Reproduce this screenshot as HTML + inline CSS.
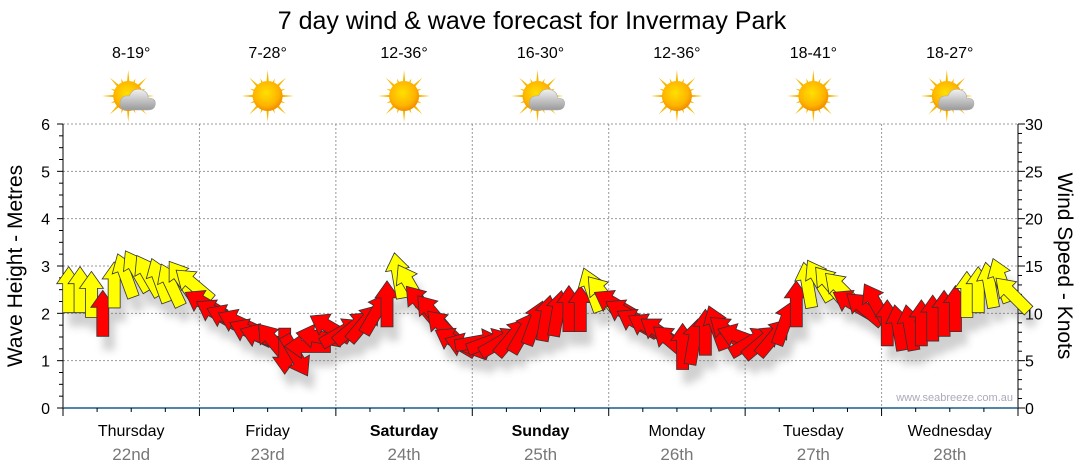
<!DOCTYPE html>
<html><head><meta charset="utf-8"><style>
html,body{margin:0;padding:0;background:#fff;}
svg{display:block;font-family:"Liberation Sans","DejaVu Sans",sans-serif;}
</style></head><body>
<svg id="chart" width="1080" height="475" viewBox="0 0 1080 475" xmlns="http://www.w3.org/2000/svg">
<defs>
<filter id="sh" x="-50%" y="-50%" width="200%" height="200%"><feGaussianBlur stdDeviation="4"/></filter>
<radialGradient id="sunG" cx="45%" cy="40%" r="60%"><stop offset="0" stop-color="#ffe000"/><stop offset="0.7" stop-color="#ffb400"/><stop offset="1" stop-color="#f08c00"/></radialGradient>
<linearGradient id="cloudG" x1="0" y1="0" x2="0" y2="1"><stop offset="0" stop-color="#f2f2f2"/><stop offset="1" stop-color="#9a9a9a"/></linearGradient>
</defs>
<text x="532" y="29" font-size="25" text-anchor="middle" fill="#000">7 day wind &amp; wave forecast for Invermay Park</text>
<g id="grid"></g>
<g id="axes"></g>
<g id="wx"></g>
<g id="shadows" filter="url(#sh)" opacity="0.3"></g>
<g id="arrows"></g>
<text transform="translate(22,266) rotate(-90)" font-size="21" text-anchor="middle" fill="#000">Wave Height - Metres</text>
<text transform="translate(1058,266) rotate(90)" font-size="21" text-anchor="middle" fill="#000">Wind Speed - Knots</text>
<text x="1013" y="401" font-size="11" text-anchor="end" fill="#aab">www.seabreeze.com.au</text>
</svg>
<script>
const days = ["Thursday","Friday","Saturday","Sunday","Monday","Tuesday","Wednesday"];
const dates = ["22nd","23rd","24th","25th","26th","27th","28th"];
const temps = ["8-19°","7-28°","12-36°","16-30°","12-36°","18-41°","18-27°"];
const icons = ["cloudy","sun","sun","cloudy","sun","sun","cloudy"];
const boldDays = [false,false,true,true,false,false,false];
const waveTicks = [0,1,2,3,4,5,6];
const windTicks = [0,5,10,15,20,25,30];
const windSpeed = [
12.5,12.5,12,10,13,14,14.5,14,13.5,13,13.5,13,
11,10,9.5,9,8,7.5,7,6,5.5,6.5,7.5,8.5,
8,8.5,9,10,11,14,13,11,10,8.5,7,6.5,
7,7,7,7.5,8,9,9.5,10,10.5,10.5,12.5,12,
11,10,9,8.5,8,7,6.5,7,8,8.5,8,7.5,
7,7,7.5,9,11,13,13.5,13,12.5,11,10.5,11,
9,8.5,8.5,9,9.5,10,10.5,12,12.5,13,13.5,12];
const windDir = [
0,0,0,0,0,-20,-30,-30,-20,-25,-35,-50,
-60,-60,-65,-65,-65,-70,-40,180,150,-90,-80,-60,
60,50,40,30,0,-10,-30,-40,-40,-45,-60,-70,
80,70,60,40,30,20,10,10,0,0,-20,-40,
-60,-60,-60,-60,-55,-50,0,10,0,-20,-50,-70,
60,50,40,20,0,-10,-30,-40,-45,-60,-50,-30,
0,-10,-10,0,0,0,0,0,0,-10,-20,-45];

const NS="http://www.w3.org/2000/svg";
const X0=63,X1=1018,Y0=408,Y1=124;
const dayW=(X1-X0)/7;
const xHour=h=>X0+h/168*(X1-X0);
const yWave=m=>Y0-m/6*(Y0-Y1);
const yWind=k=>Y0-k/30*(Y0-Y1);
function mk(tag,attrs,parent){const e=document.createElementNS(NS,tag);for(const k in attrs)e.setAttribute(k,attrs[k]);parent.appendChild(e);return e;}
const grid=document.getElementById('grid'),axes=document.getElementById('axes'),wx=document.getElementById('wx');

waveTicks.forEach(m=>{
  if(m>0){const l=mk('line',{x1:X0,x2:X1,y1:yWave(m),y2:yWave(m),stroke:'#999','stroke-dasharray':'2,2','stroke-width':1},grid);
  
  }
  const t=mk('text',{x:50,y:yWave(m)+6,'font-size':16,'text-anchor':'end',fill:'#000'},axes);t.textContent=m;
  
  
});
for(let i=0;i<=24;i++){const y=Y0-i*(Y0-Y1)/24;mk('line',{x1:X0-(i%4==0?6:4),x2:X0,y1:y,y2:y,stroke:'#000'},axes);}
windTicks.forEach(k=>{
  const t=mk('text',{x:1025,y:yWind(k)+6,'font-size':16,fill:'#000'},axes);t.textContent=k;
  
  
});
for(let i=0;i<=30;i++){const y=yWind(i);mk('line',{x1:X1,x2:X1+(i%5==0?7:4),y1:y,y2:y,stroke:'#000'},axes);}
mk('line',{x1:X0,x2:X0,y1:Y1,y2:Y0,stroke:'#000'},axes);
mk('line',{x1:X1,x2:X1,y1:Y1,y2:Y0,stroke:'#000'},axes);
mk('line',{x1:X0,x2:X1,y1:Y0,y2:Y0,stroke:'#1b5b8c','stroke-width':1.5},axes);
for(let i=0;i<=28;i++){const x=X0+i*dayW/4;mk('line',{x1:x,x2:x,y1:Y0,y2:Y0+(i%4==0?8:4),stroke:'#000'},axes);}

days.forEach((d,i)=>{
  const cx=X0+(i+0.5)*dayW;
  if(i>0){const l=mk('line',{x1:X0+i*dayW,x2:X0+i*dayW,y1:Y1,y2:Y0,stroke:'#999','stroke-dasharray':'2,2'},grid);
  
  }
  const t=mk('text',{x:cx,y:436,'font-size':16,'text-anchor':'middle',fill:'#000','font-weight':boldDays[i]?'bold':'normal'},axes);t.textContent=d;
  
  
  const t2=mk('text',{x:cx,y:460,'font-size':17,'text-anchor':'middle',fill:'#777'},axes);t2.textContent=dates[i];
  
  
  const t3=mk('text',{x:cx,y:58,'font-size':16,'text-anchor':'middle',fill:'#000'},wx);t3.textContent=temps[i];
  
  
  const g=mk('g',{transform:`translate(${cx},96)`},wx);
  
  
  const sx=icons[i]=='cloudy'?-3:0;
  for(let r=0;r<16;r++){const a=r*Math.PI/8,L=(r%2?19:26);
    mk('polygon',{points:`${sx+Math.cos(a-0.12)*12},${Math.sin(a-0.12)*12} ${sx+Math.cos(a)*L},${Math.sin(a)*L} ${sx+Math.cos(a+0.12)*12},${Math.sin(a+0.12)*12}`,fill:'#f5b800'},g);}
  mk('circle',{cx:sx,cy:0,r:15,fill:'url(#sunG)'},g);
  if(icons[i]=='cloudy'){
    mk('path',{d:'M-5,14 Q-12,14 -11,6 Q-10,-1 -2,0 Q2,-9 11,-6 Q17,-4 17,2 Q25,2 24,9 Q23,14 17,14 Z',fill:'url(#cloudG)',stroke:'#aaa','stroke-width':0.6},g);
  }
});

const arrows=document.getElementById('arrows'),shadows=document.getElementById('shadows');
const shape='M0,-23 L12,-6 L6,-6 L6,23 L-6,23 L-6,-6 L-12,-6 Z';
windSpeed.forEach((s,i)=>{
  const x=xHour(i*2+1),y=yWind(s);
  const sh=mk('path',{d:shape,transform:`translate(${x+6},${y+14}) rotate(${windDir[i]})`,fill:'#666'},shadows);
  const a=mk('path',{d:shape,transform:`translate(${x},${y}) rotate(${windDir[i]})`,fill:s>=11.5?'#ffff00':'#ff0000',stroke:'#333','stroke-width':0.8},arrows);
  
  
});
</script>
</body></html>
